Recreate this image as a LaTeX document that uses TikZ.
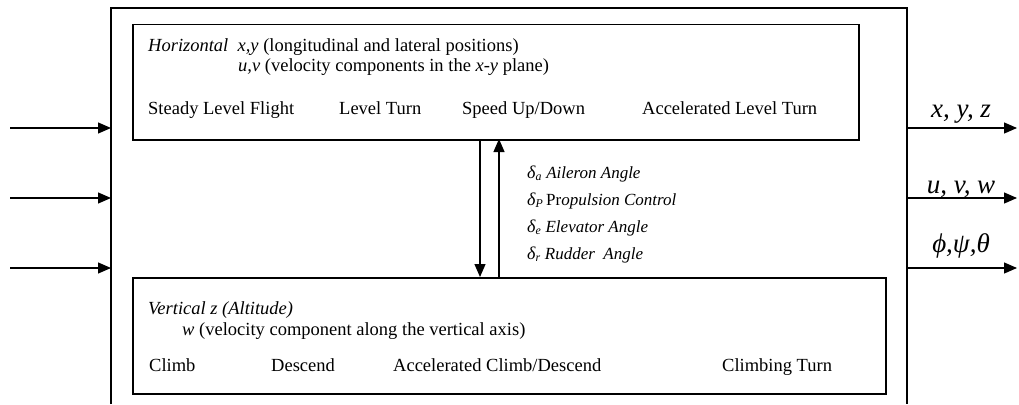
\documentclass[tikz,border=0pt]{standalone}
\usepackage{fontspec}
\setmainfont{Liberation Serif}
\usetikzlibrary{arrows.meta}
\newcommand{\dsub}[1]{{\fontsize{18}{19}\selectfont\textit{δ}}\textsubscript{\textit{#1}}}
\begin{document}
\begin{tikzpicture}[x=1pt,y=-1pt,
  box/.style={draw,line width=1.5pt,inner sep=0pt,anchor=north west},
  frame/.style={line width=1.4pt},
  arr/.style={line width=1.2pt,-{Triangle[length=13pt,width=11pt]}},
  txt/.style={anchor=base west,inner sep=0pt,font=\fontsize{18.5}{21}\selectfont},
  dtxt/.style={anchor=base west,inner sep=0pt,font=\fontsize{17}{19}\selectfont\itshape},
  otxt/.style={anchor=base,inner sep=0pt,font=\fontsize{27}{30}\selectfont\itshape}]
\useasboundingbox (0,0) rectangle (1019,404);
% outer frame (open at bottom)
\coordinate (oBL) at (111,404);
\coordinate (oTL) at (111,8);
\coordinate (oTR) at (907,8);
\coordinate (oBR) at (907,404);
\draw[frame] (oBL) -- (oTL) -- (oTR) -- (oBR);
% inner boxes
\node[box,minimum width=726pt,minimum height=115pt] (top) at (132,24) {};
\node[box,minimum width=753pt,minimum height=116pt] (bot) at (132,277) {};
\coordinate (tB1) at (480,139);
\coordinate (tB2) at (499,139);
\coordinate (bT1) at (480,277);
\coordinate (bT2) at (499,277);
\draw[arr] (tB1) -- (bT1);
\draw[arr] (bT2) -- (tB2);
% top box text
\node[txt] (h1) at (148,52) {\textit{Horizontal}\ \ \textit{x,y} (longitudinal and lateral positions)};
\node[txt] (h2) at (238,71) {\textit{u,v} (velocity components in the \textit{x-y} plane)};
\node[txt] (s1) at (148,114) {Steady Level Flight};
\node[txt] (s2) at (339,114) {Level Turn};
\node[txt] (s3) at (462,114) {Speed Up/Down};
\node[txt] (s4) at (642,114) {Accelerated Level Turn};
% bottom box text
\node[txt] (v1) at (148,314) {\textit{Vertical z (Altitude)}};
\node[txt] (v2) at (182,335) {\textit{w} (velocity component along the vertical axis)};
\node[txt] (c1) at (149,371) {Climb};
\node[txt] (c2) at (271,371) {Descend};
\node[txt] (c3) at (393,371) {Accelerated Climb/Descend};
\node[txt] (c4) at (722,371) {Climbing Turn};
% controls
\node[dtxt] (d1) at (527,178) {\dsub{a} Aileron Angle};
\node[dtxt] (d2) at (527,205) {{\fontsize{18}{19}\selectfont\textit{δ}}\textsubscript{P}\,\upshape Pr\itshape opulsion Control};
\node[dtxt] (d3) at (527,232) {\dsub{e} Elevator Angle};
\node[dtxt] (d4) at (527,259) {\dsub{r} Rudder\ \ Angle};
% inputs / outputs
\foreach \y/\n in {128/1,198/2,268/3}{
  \coordinate (in\n) at (10,\y);
  \coordinate (ie\n) at (111,\y);
  \draw[arr] (in\n) -- (ie\n);
  \coordinate (os\n) at (907,\y);
  \coordinate (oe\n) at (1017,\y);
  \draw[arr] (os\n) -- (oe\n);
}
\node[otxt] (o1) at (961,117) {x, y, z};
\node[otxt] (o2) at (961,193) {u, v, w};
\node[otxt] (o3) at (961,252) {ϕ,ψ,θ};
\end{tikzpicture}
\end{document}
